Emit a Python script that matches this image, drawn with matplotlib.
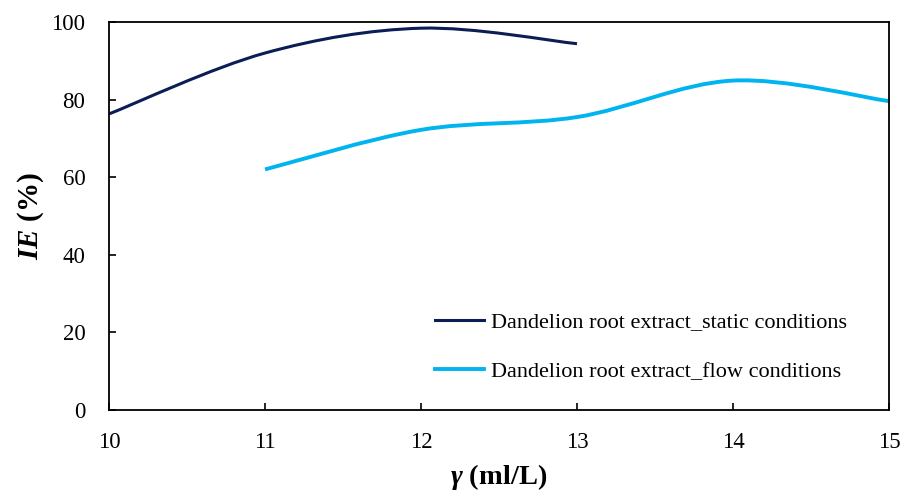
import matplotlib
matplotlib.use("Agg")
import matplotlib.pyplot as plt
from matplotlib.path import Path
from matplotlib.patches import PathPatch
from matplotlib.lines import Line2D
import numpy as np

plt.rcParams['font.family'] = ['Liberation Serif', 'DejaVu Serif']
plt.rcParams['mathtext.fontset'] = 'custom'
plt.rcParams['mathtext.rm'] = 'Liberation Serif'
plt.rcParams['mathtext.it'] = 'Liberation Serif:italic'
plt.rcParams['mathtext.bf'] = 'Liberation Serif:bold'
plt.rcParams['mathtext.bfit'] = 'Liberation Serif:bold:italic'

static_x = [10, 11, 12, 13]
static_y = [76.3, 92.0, 98.4, 94.4]
flow_x = [11, 12, 13, 14, 15]
flow_y = [62.0, 72.2, 75.5, 84.9, 79.6]
labels = ["Dandelion root extract_static conditions",
          "Dandelion root extract_flow conditions"]
colors = ["#0c1d55", "#00b4f0"]

x_ticks = [10, 11, 12, 13, 14, 15]
y_ticks = [0, 20, 40, 60, 80, 100]


def smooth_path(xs, ys):
    pts = np.column_stack([xs, ys]).astype(float)
    n = len(pts)
    verts = [pts[0]]
    codes = [Path.MOVETO]
    for i in range(n - 1):
        p0 = pts[i - 1] if i > 0 else pts[i]
        p1 = pts[i]
        p2 = pts[i + 1]
        p3 = pts[i + 2] if i + 2 < n else pts[i + 1]
        c1 = p1 + (p2 - p0) / 6.0
        c2 = p2 - (p3 - p1) / 6.0
        verts += [c1, c2, p2]
        codes += [Path.CURVE4] * 3
    return Path(verts, codes)


fig = plt.figure(figsize=(9.04, 4.92), dpi=100)
ax = fig.add_axes([0.1206, 0.1667, 0.8628, 0.7886])

for xs, ys, c, lw in [(static_x, static_y, colors[0], 2.2),
                      (flow_x, flow_y, colors[1], 2.8)]:
    patch = PathPatch(smooth_path(xs, ys), facecolor='none', edgecolor=c,
                      lw=lw, capstyle='butt', transform=ax.transData)
    ax.add_patch(patch)

ax.set_xlim(10, 15)
ax.set_ylim(0, 100)
ax.set_xticks(x_ticks)
ax.set_yticks(y_ticks)
ax.tick_params(direction='in', length=5, width=1.2, labelsize=16.5)
ax.tick_params(axis='x', pad=16)
ax.tick_params(axis='y', pad=17)
for s in ax.spines.values():
    s.set_linewidth(1.3)

ax.set_xlabel(r"$\boldsymbol{\gamma}$ (ml/L)", fontsize=20.5, fontweight='bold', labelpad=6)
ax.set_ylabel(r"$\mathbfit{IE}$ (%)", fontsize=21, fontweight='bold', labelpad=4)

handles = [Line2D([], [], color=colors[0], lw=2.2),
           Line2D([], [], color=colors[1], lw=2.8)]
ax.legend(handles, labels, loc='center left', bbox_to_anchor=(0.418, 0.163),
          frameon=False, fontsize=16, labelspacing=1.3, handlelength=2.2,
          handletextpad=0.3, borderpad=0, borderaxespad=0)

fig.savefig("out.png", dpi=100)
